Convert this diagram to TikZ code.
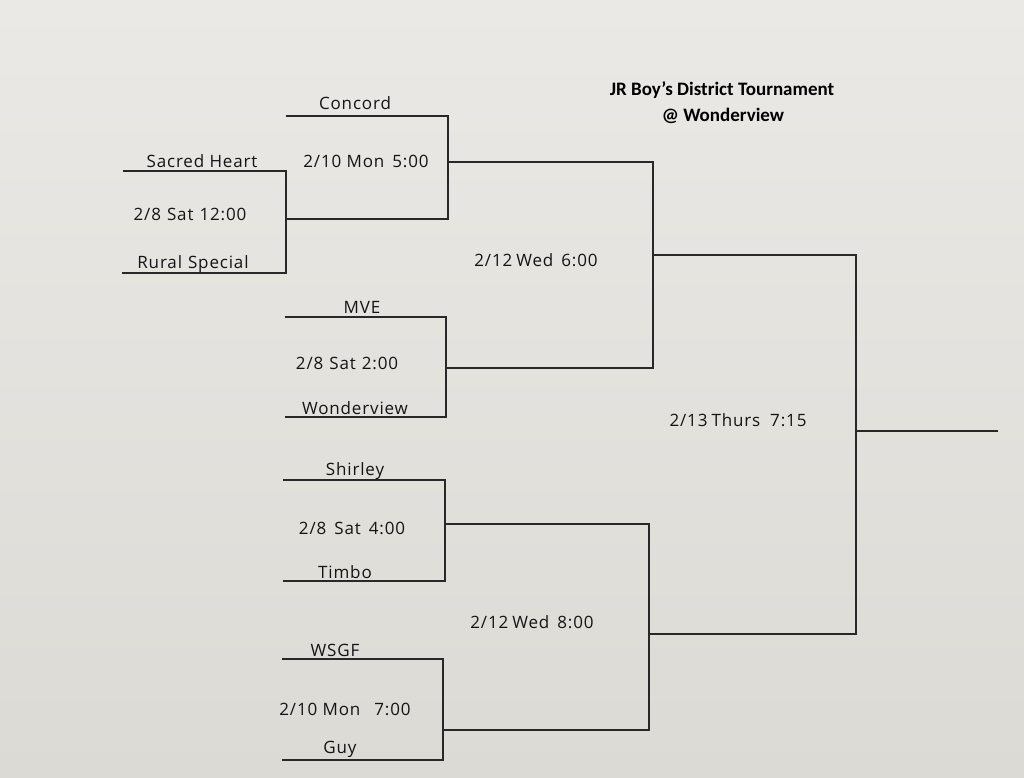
\documentclass[tikz,border=0pt]{standalone}
\usepackage{fontspec}
\setmainfont{Open Sans}
\newfontfamily\titlefont{Carlito}
\definecolor{papertop}{RGB}{234,233,229}
\definecolor{paperbot}{RGB}{219,218,213}
\definecolor{linecol}{RGB}{40,40,40}
\definecolor{inkcol}{RGB}{20,20,20}
\begin{document}
\begin{tikzpicture}[x=1pt,y=-1pt,
  bracketline/.style={draw=linecol, line width=1.4pt, line join=miter},
  hand/.style={font=\fontsize{17}{20}\selectfont\addfontfeatures{LetterSpace=5}, text=inkcol, inner sep=0pt, anchor=center},
  titletext/.style={font=\titlefont\bfseries\fontsize{19}{22}\selectfont, text=black, inner sep=0pt, anchor=center}]
\shade[top color=papertop, bottom color=paperbot] (0,0) rectangle (1024,778);
\useasboundingbox (0,0) rectangle (1024,778);

% bracket A: Sacred Heart / Rural Special
\coordinate (A1) at (123,171); \coordinate (A2) at (286,171);
\coordinate (A3) at (286,273); \coordinate (A4) at (122,273);
\draw[bracketline] (A1) -- (A2) -- (A3) -- (A4);
% bracket B: Concord / winner A
\coordinate (B1) at (286,116); \coordinate (B2) at (448,116);
\coordinate (B3) at (448,219); \coordinate (B4) at (286,219);
\draw[bracketline] (B1) -- (B2) -- (B3) -- (B4);
% bracket C: MVE / Wonderview
\coordinate (C1) at (285,317); \coordinate (C2) at (446,317);
\coordinate (C3) at (446,417); \coordinate (C4) at (285,417);
\draw[bracketline] (C1) -- (C2) -- (C3) -- (C4);
% bracket D: 2/12 Wed 6:00
\coordinate (D1) at (448,162); \coordinate (D2) at (653,162);
\coordinate (D3) at (653,368); \coordinate (D4) at (446,368);
\draw[bracketline] (D1) -- (D2) -- (D3) -- (D4);
% bracket E: Shirley / Timbo
\coordinate (E1) at (283,480); \coordinate (E2) at (445,480);
\coordinate (E3) at (445,581); \coordinate (E4) at (283,581);
\draw[bracketline] (E1) -- (E2) -- (E3) -- (E4);
% bracket F: WSGF / Guy
\coordinate (F1) at (282,659); \coordinate (F2) at (443,659);
\coordinate (F3) at (443,760); \coordinate (F4) at (282,760);
\draw[bracketline] (F1) -- (F2) -- (F3) -- (F4);
% bracket G: 2/12 Wed 8:00
\coordinate (G1) at (445,524); \coordinate (G2) at (649,524);
\coordinate (G3) at (649,730); \coordinate (G4) at (443,730);
\draw[bracketline] (G1) -- (G2) -- (G3) -- (G4);
% bracket H: final
\coordinate (H1) at (653,255); \coordinate (H2) at (856,255);
\coordinate (H3) at (856,634); \coordinate (H4) at (649,634);
\draw[bracketline] (H1) -- (H2) -- (H3) -- (H4);
\coordinate (W1) at (856,431); \coordinate (W2) at (998,431);
\draw[bracketline] (W1) -- (W2);

% texts
\node[titletext] (title1) at (722,90) {JR Boy’s District Tournament};
\node[titletext] (title2) at (723,116) {@ Wonderview};

\node[hand] (concord) at (355,103) {Concord};
\node[hand] (sacred) at (202,161) {Sacred Heart};
\node[hand] (g1) at (366,161) {2/10 Mon\hspace{8pt}5:00};
\node[hand] (g2) at (190,214) {2/8\hspace{6pt}Sat\hspace{6pt}12:00};
\node[hand] (rural) at (193,264) {Rural\hspace{6pt}Special};
\node[hand] (mve) at (362,307) {MVE};
\node[hand] (g3) at (347,363) {2/8\hspace{6pt}Sat\hspace{6pt}2:00};
\node[hand] (wonder) at (355,408) {Wonderview};
\node[hand] (shirley) at (355,471) {Shirley};
\node[hand] (g4) at (352,528) {2/8\hspace{8pt}Sat\hspace{8pt}4:00};
\node[hand] (timbo) at (345,572) {Timbo};
\node[hand] (wsgf) at (335,650) {WSGF};
\node[hand] (g5) at (345,709) {2/10 Mon\hspace{14pt}7:00};
\node[hand] (guy) at (340,749) {Guy};
\node[hand] (g6) at (536,260) {2/12\hspace{4pt}Wed\hspace{8pt}6:00};
\node[hand] (g7) at (532,622) {2/12\hspace{4pt}Wed\hspace{8pt}8:00};
\node[hand] (g8) at (738,420) {2/13\hspace{4pt}Thurs\hspace{10pt}7:15};
\end{tikzpicture}
\end{document}
